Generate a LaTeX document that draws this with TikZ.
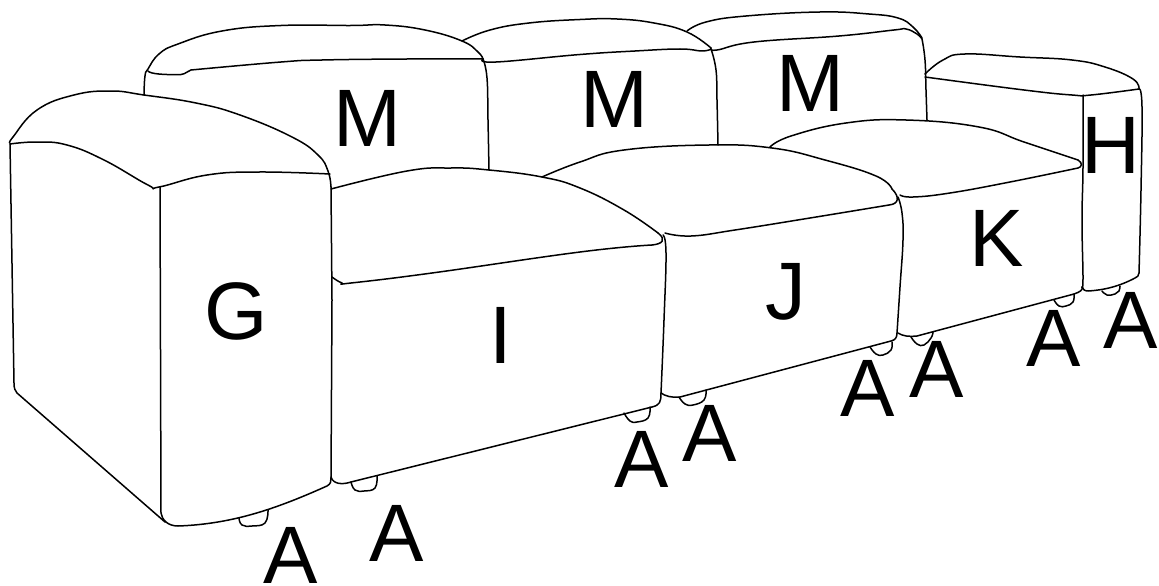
\documentclass[tikz,border=0pt]{standalone}
\usepackage{fontspec}
\setmainfont{Liberation Sans}
\tikzset{
  ln/.style={line width=1.5pt,line join=round,line cap=round,black},
  lb/.style={anchor=base,inner sep=0pt,outer sep=0pt,font=\fontsize{81.5}{81.5}\selectfont,text=black},
}
\newcommand{\cv}[1]{\draw[ln] plot[smooth,tension=0.75] coordinates {#1};}
\begin{document}
\begin{tikzpicture}[x=1pt,y=-1pt]
\useasboundingbox (0,0) rectangle (1159,586);
\fill[white] (0,0) rectangle (1159,586);
% back cushion M1
\cv{(144,95) (145,76) (148,69) (159,54) (178,44) (222,31) (281,25.5) (351,25.5) (385,25) (425,30) (462,41) (478,52) (483,59)}
\draw[ln] (148,71) .. controls (150,74) and (165,75) .. (181,74.5) .. controls (186,74) and (187,71) .. (191,70);
\cv{(191,70) (281,62) (322,60) (407,59) (483,59)}
\cv{(483,59) (487,78) (488,120) (489,170)}
% M2
\cv{(462,41) (490,30) (529,23) (580,19.5) (617,19) (654,23) (687,32) (711,48)}
\cv{(483,59) (496,62) (580,54.5) (635,51) (680,49) (702,51) (711,49)}
\cv{(711,49) (716,70) (717,100) (718,145)}
% M3
\cv{(687,31) (706,22) (746,16) (820,12) (869,14) (898,18) (913,27) (922,38)}
\cv{(711,48) (717,50) (754,42) (839,36) (894,30) (906,29) (917,34) (922,39)}
\cv{(922,39) (925,60) (926,90) (927,120)}
% H
\cv{(925,74) (943,60) (965,54) (1020,57) (1072,60) (1105,67) (1133,79) (1139,89)}
\cv{(925,77) (1024,90) (1072,95) (1091,95) (1139,89)}
\cv{(1139,89) (1142,107) (1141,190) (1139,273)}
\draw[ln] (1139,273) .. controls (1139,276) and (1137,277) .. (1135,278) .. controls (1120,286) and (1105,290) .. (1088,291) .. controls (1084,291) and (1083,289) .. (1082,287);
\cv{(1083,95) (1083,167) (1082,220) (1083,278) (1082,287)}
% K seat
\cv{(770,147) (791,136) (846,123) (906,120) (979,127) (1024,142) (1078,160)}
\draw[ln] (1078,160) .. controls (1083,163) and (1082,167) .. (1078,168);
\cv{(1078,168) (1010,182) (950,193) (913,197) (900,195)}
\cv{(898,197) (902,213) (903,240) (900,287) (897,333)}
% J seat
\cv{(542,177) (580,162) (624,150) (709,145) (772,148) (825,160) (876,176) (892,189)}
\draw[ln] (892,189) .. controls (900,197) and (899,204) .. (889,205);
\cv{(889,205) (810,218) (735,230) (691,236) (665,233)}
\cv{(663,235) (666,253) (664,320) (661,393)}
\draw[ln] (661,393) .. controls (661,402) and (660,405) .. (652,407);
% I seat
\cv{(331,189) (407,171) (451,168) (489,170) (542,177) (580,188) (624,210) (658,233)}
\draw[ln] (658,233) .. controls (667,240) and (662,244) .. (652,245);
\cv{(652,245) (580,252) (432,273) (351,283) (342,283) (332,277)}
\draw[ln] (652,407) -- (351,482);
\draw[ln] (351,482) .. controls (342,485) and (333,484) .. (331,477);
% J bottom
\draw[ln] (661,393) .. controls (665,396) and (672,398) .. (680,397) -- (891,341) .. controls (895,340) and (897,338) .. (897,333);
% K bottom
\draw[ln] (898,333) .. controls (902,336) and (910,337) .. (917,336) -- (1074,294) .. controls (1080,292) and (1083,290) .. (1082,287);
% G
\cv{(10,143) (13,137) (37,110) (74,95) (111,91) (144,95) (196,103) (240,115) (292,137) (318,155) (328,171) (331,187)}
\cv{(10,144) (37,142) (67,145) (104,160) (148,185) (159,187) (207,175) (259,172) (330,174)}
\draw[ln] (10,144) -- (14,383) .. controls (14,388) and (15,391) .. (17,393) -- (165,522);
\draw[ln] (160,187) -- (161,513) .. controls (162,520) and (168,526) .. (178,526) .. controls (235,524) and (280,507) .. (327,486) .. controls (331,484) and (331,481) .. (331,478);
\draw[ln] (331,187) -- (332,300) -- (331,478);
% feet
\cv{(239,518) (242,525) (252,526) (265,523) (268,510)}
\cv{(351,482) (355,490) (364,491) (375,488) (377,476)}
\cv{(624,413) (630,421) (637,422) (648,418) (650,407)}
\cv{(679,397) (685,404) (693,405) (704,400) (706,390)}
\cv{(870,347) (876,354) (883,355) (891,350) (892,342)}
\cv{(911,337) (917,344) (924,345) (931,338) (933,332)}
\cv{(1054,300) (1059,306) (1066,306) (1073,302) (1074,294)}
\cv{(1102,291) (1107,295) (1115,294) (1119,291) (1120,286)}
% labels
\node[lb] (m1) at (367,146) {M};
\node[lb] (m2) at (614,127) {M};
\node[lb] (m3) at (810,111) {M};
\node[lb] (h) at (1111,173) {H};
\node[lb] (k) at (997,266) {K};
\node[lb] (g) at (236,339) {G};
\node[lb] (i) at (501,363) {I};
\node[lb] (j) at (786,319) {J};
\node[lb] (a1) at (291,583.5) {A};
\node[lb] (a2) at (397,561) {A};
\node[lb] (a3) at (642,487) {A};
\node[lb] (a4) at (710,461) {A};
\node[lb] (a5) at (868,416) {A};
\node[lb] (a6) at (937,397) {A};
\node[lb] (a7) at (1054,366) {A};
\node[lb] (a8) at (1131,348) {A};
\end{tikzpicture}
\end{document}
